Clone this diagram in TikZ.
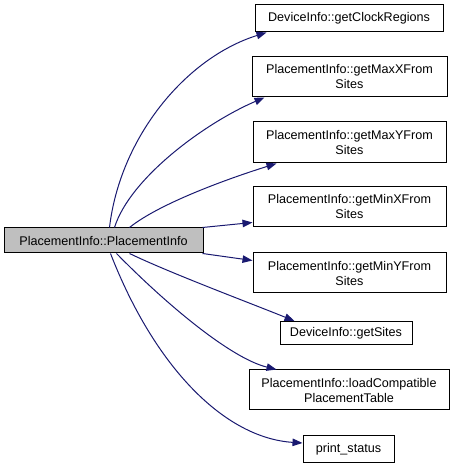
\documentclass[tikz,border=0pt]{standalone}
\usepackage{fontspec}
\setmainfont{Liberation Sans}
\usetikzlibrary{arrows.meta}
\definecolor{edgeblue}{RGB}{25,25,112}
\definecolor{mainfill}{RGB}{191,191,191}
\begin{document}
\begin{tikzpicture}[x=1pt,y=1pt,
  box/.style={draw=black, line width=1pt, inner sep=0pt, align=center,
    font=\fontsize{12.6}{15}\selectfont},
  edge/.style={draw=edgeblue, line width=1pt,
    -{Triangle[length=10pt,width=7.5pt]}}]
\useasboundingbox (0,0) rectangle (456,468);
\node[box, fill=mainfill, minimum width=199pt, minimum height=25pt] (main) at (103.5,227.5) {PlacementInfo::PlacementInfo};
\node[box, minimum width=188pt, minimum height=27pt] (t1) at (349,449.5) {DeviceInfo::getClockRegions};
\node[box, minimum width=195pt, minimum height=40pt] (t2) at (349.5,391) {PlacementInfo::getMaxXFrom\\Sites};
\node[box, minimum width=193pt, minimum height=41pt] (t3) at (349.5,325.5) {PlacementInfo::getMaxYFrom\\Sites};
\node[box, minimum width=193pt, minimum height=40pt] (t4) at (349.5,261) {PlacementInfo::getMinXFrom\\Sites};
\node[box, minimum width=193pt, minimum height=40pt] (t5) at (349.5,195) {PlacementInfo::getMinYFrom\\Sites};
\node[box, minimum width=132pt, minimum height=23pt] (t6) at (346,135) {DeviceInfo::getSites};
\node[box, minimum width=200pt, minimum height=40pt] (t7) at (349,78) {PlacementInfo::loadCompatible\\PlacementTable};
\node[box, minimum width=91pt, minimum height=27pt] (t8) at (348.5,19) {print\_status};

\draw[edge] ([xshift=106pt]main.north west) .. controls (120,330) and (185,410) .. ([xshift=12pt]t1.south west);
\draw[edge] ([xshift=111pt]main.north west) .. controls (130,290) and (205,345) .. ([xshift=13pt]t2.south west);
\draw[edge] ([xshift=126pt]main.north west) .. controls (160,265) and (230,290) .. ([xshift=24pt]t3.south west);
\draw[edge] ([xshift=-1pt]main.north east) -- ([yshift=5pt]t4.south west);
\draw[edge] ([xshift=-1pt]main.south east) -- ([yshift=-8pt]t5.north west);
\draw[edge] ([xshift=126pt]main.south west) .. controls (170,195) and (250,165) .. ([xshift=15pt]t6.north west);
\draw[edge] ([xshift=113pt]main.south west) .. controls (165,165) and (230,110) .. ([xshift=28pt]t7.north west);
\draw[edge] ([xshift=107pt]main.south west) .. controls (155,100) and (225,30) .. ([yshift=-8pt]t8.north west);
\end{tikzpicture}
\end{document}
